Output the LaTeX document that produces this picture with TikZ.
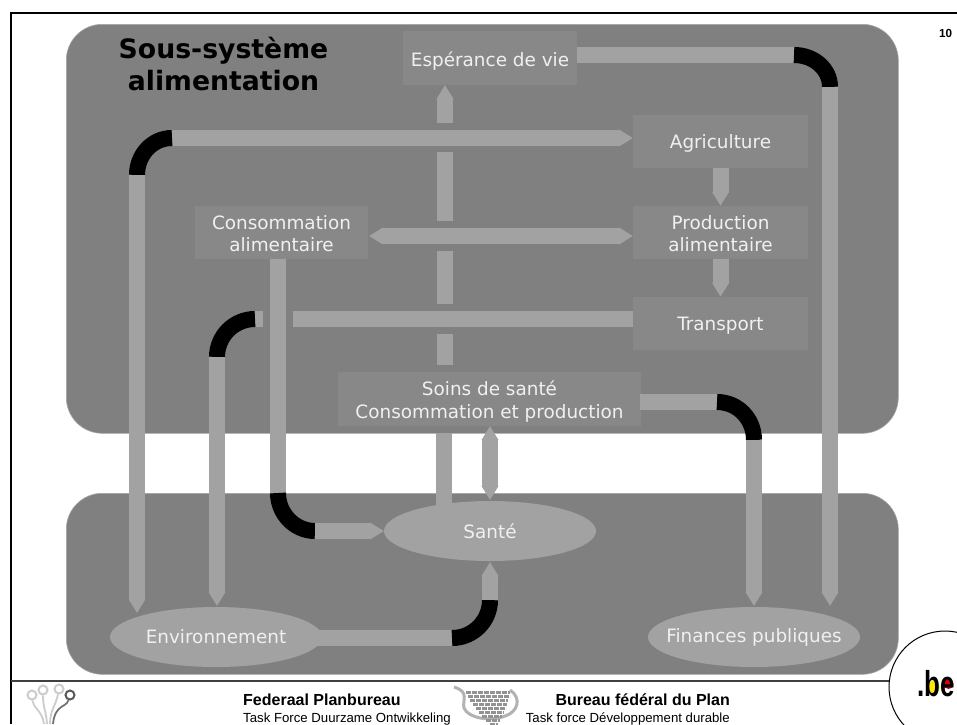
\documentclass[tikz,border=0pt]{standalone}
\usepackage{fontspec}
\setmainfont{DejaVu Sans}
\newfontfamily\arialfont{Liberation Sans}
\usetikzlibrary{arrows.meta,shapes.geometric}
\definecolor{pPanel}{HTML}{808080}
\definecolor{pBox}{HTML}{888888}
\definecolor{pPipe}{HTML}{A2A2A2}
\definecolor{pText}{HTML}{F0F0F0}
\tikzset{
    panel/.style={fill=pPanel, draw=pPanel!70!white, line width=0.6pt, rounded corners=36pt},
    bloc/.style={fill=pBox, text=pText, align=center, inner sep=0pt, font=\fontsize{18.4}{22.5}\selectfont},
    single/.style={text height=17pt, text depth=4pt},
    twolines/.style={text height=38pt, text depth=0pt},
    oval/.style={ellipse, fill=pPipe, text=pText, inner sep=0pt, minimum width=212pt, minimum height=60pt, font=\fontsize{18.4}{22.5}\selectfont},
    pipe/.style={line width=16pt, pPipe},
    elbow/.style={line width=16pt, black},
    pipetip/.style={pipe, -{Triangle[length=14pt,width=16pt]}},
    twotip/.style={pipe, {Triangle[length=14pt,width=16pt]}-{Triangle[length=14pt,width=16pt]}},
    logoline/.style={line width=1.8pt, gray!40},
    logoring/.style={circle, draw=gray!40, line width=2pt, fill=white, inner sep=0pt, minimum width=9pt}
}
\begin{document}
\begin{tikzpicture}[x=1pt,y=-1pt]
\useasboundingbox (0,0) rectangle (957,724);
% panels
\node[panel, minimum width=832pt, minimum height=409pt, inner sep=0pt, anchor=north west] (upper) at (66,24) {};
\node[panel, minimum width=832pt, minimum height=181pt, inner sep=0pt, anchor=north west] (lower) at (66,493) {};
% frame
\coordinate (frameTL) at (11,13);
\coordinate (frameTR) at (957,13);
\coordinate (frameBL) at (11,724);
\coordinate (frameML) at (11,681);
\coordinate (frameMR) at (889,681);
\draw[line width=2.6pt] (frameBL) -- (frameTL) -- (frameTR);
\draw[line width=2.2pt, black!75] (frameML) -- (frameMR);
% boxes
\node[bloc, single, text height=20pt, minimum width=174pt, minimum height=54pt] (esp) at (490,58) {Espérance de vie};
\node[bloc, single, minimum width=175pt, minimum height=53pt] (agri) at (720.5,141.5) {Agriculture};
\node[bloc, twolines, minimum width=175pt, minimum height=53pt] (prod) at (720.5,232.5) {Production\\alimentaire};
\node[bloc, single, minimum width=175pt, minimum height=53pt] (trans) at (720.5,323.5) {Transport};
\node[bloc, twolines, minimum width=173pt, minimum height=53pt] (cons) at (281.5,232.5) {Consommation\\alimentaire};
\node[bloc, twolines, minimum width=303pt, minimum height=54pt] (soins) at (489.5,399) {Soins de santé\\Consommation et production};
% joints of the pipes
\coordinate (espA) at (577,55);
\coordinate (espB) at (794,55);
\coordinate (espC) at (830,87);
\coordinate (espD) at (830,606);
\coordinate (agriA) at (633,138);
\coordinate (agriB) at (172,138);
\coordinate (agriC) at (137,175);
\coordinate (agriD) at (137,613);
\coordinate (transA) at (633,319);
\coordinate (transB) at (293,319);
\coordinate (transC) at (263,319);
\coordinate (transD) at (255,319);
\coordinate (transE) at (217,357);
\coordinate (transF) at (217,606);
\coordinate (consA) at (278,259);
\coordinate (consB) at (278,493);
\coordinate (consC) at (315,531);
\coordinate (consD) at (384,531);
\coordinate (soinsA) at (640,402);
\coordinate (soinsB) at (717,402);
\coordinate (soinsC) at (754,440);
\coordinate (soinsD) at (754,606);
\coordinate (soinsE) at (490,426);
\coordinate (soinsF) at (490,500);
\coordinate (envA) at (310,638);
\coordinate (envB) at (452,638);
\coordinate (envC) at (490,600);
\coordinate (envD) at (490,562);
\coordinate (lifeA) at (445,123);
\coordinate (lifeZ) at (445,85);
\coordinate (lifeB) at (445,152);
\coordinate (lifeC) at (445,221);
\coordinate (lifeD) at (445,251);
\coordinate (lifeE) at (445,304);
\coordinate (lifeF) at (445,334);
\coordinate (lifeG) at (445,365);
\coordinate (lifeH) at (444,433);
\coordinate (lifeI) at (444,510);
\coordinate (consLeft) at (369,236);
\coordinate (prodLeft) at (633,236);
% pipes
\draw[pipe] (lifeB) -- (lifeC);
\draw[pipe] (lifeD) -- (lifeE);
\draw[pipe] (lifeF) -- (lifeG);
\draw[pipe] (lifeH) -- (lifeI);
\draw[pipetip] (lifeA) -- (lifeZ);
\draw[pipe] (espA) -- (espB);
\draw[elbow] (espB) .. controls (814,55) and (830,69) .. (espC);
\draw[pipetip] (espC) -- (espD);
\draw[pipetip] (agriB) -- (agriA);
\draw[elbow] (agriB) .. controls (152,138) and (137,155) .. (agriC);
\draw[pipetip] (agriC) -- (agriD);
\draw[twotip] (consLeft) -- (prodLeft);
\draw[pipetip] (agri.south) -- (prod.north);
\draw[pipetip] (prod.south) -- (trans.north);
\draw[pipe] (transA) -- (transB);
\draw[pipe] (transC) -- (transD);
\draw[elbow] (transD) .. controls (234,319) and (217,336) .. (transE);
\draw[pipetip] (transE) -- (transF);
\draw[pipe] (consA) -- (consB);
\draw[elbow] (consB) .. controls (278,514) and (295,531) .. (consC);
\draw[pipetip] (consC) -- (consD);
\draw[twotip] (soinsE) -- (soinsF);
\draw[pipe] (soinsA) -- (soinsB);
\draw[elbow] (soinsB) .. controls (738,402) and (754,419) .. (soinsC);
\draw[pipetip] (soinsC) -- (soinsD);
\draw[pipe] (envA) -- (envB);
\draw[elbow] (envB) .. controls (473,638) and (490,621) .. (envC);
\draw[pipetip] (envC) -- (envD);
% ovals
\node[oval] (sante) at (490,531) {\makebox[0pt]{Santé}};
\node[oval] (env) at (216,637) {\makebox[0pt]{Environnement}};
\node[oval] (fin) at (754,637) {\makebox[0pt]{Finances publiques}};
% title
\node[align=center, font=\fontsize{26.7}{32}\selectfont\bfseries, inner sep=0pt, anchor=base] (titre) at (223.5,90) {Sous-système\\alimentation};
\node[font=\arialfont\fontsize{11.7}{13}\selectfont\bfseries, inner sep=0pt] (page) at (945.5,33) {10};
% footer
\node[font=\arialfont\fontsize{16}{18}\selectfont\bfseries, inner sep=0pt, anchor=base west] (fedNl) at (243,705) {Federaal Planbureau};
\node[font=\arialfont\fontsize{13.2}{15}\selectfont, inner sep=0pt, anchor=base west] (tfNl) at (243,722) {Task Force Duurzame Ontwikkeling};
\node[font=\arialfont\fontsize{16}{18}\selectfont\bfseries, inner sep=0pt, anchor=base east] (fedFr) at (730,705) {Bureau fédéral du Plan};
\node[font=\arialfont\fontsize{13.2}{15}\selectfont, inner sep=0pt, anchor=base east] (tfFr) at (730,722) {Task force Développement durable};
% left logo
\node[logoring] (ringA) at (32,695) {};
\node[logoring] (ringB) at (43,690) {};
\node[logoring] (ringC) at (59,689) {};
\node[logoring, draw=black!65] (ringD) at (70,695) {};
\coordinate (rootA) at (44,724);
\coordinate (rootB) at (47,724);
\coordinate (rootC) at (50,724);
\coordinate (rootD) at (53,724);
\draw[logoline] (ringA) .. controls (33,708) and (42,710) .. (rootA);
\draw[logoline] (ringB) .. controls (43,708) and (46,710) .. (rootB);
\draw[logoline] (ringC) .. controls (56,705) and (50,710) .. (rootC);
\draw[logoline, black!55] (ringD) .. controls (66,708) and (55,704) .. (rootD);
% middle logo
\draw[line width=3pt, gray!60] (454,687) .. controls (470,692) and (462,700) .. (464,708) .. controls (468,718) and (490,722) .. (505,716) .. controls (518,712) and (522,698) .. (510,690);
\foreach \y/\l/\r in {692/466/510,696/468/510,700/470/508,704/473/507,708/476/506,712/479/504,716/482/502,720/486/500,724/490/498}
    \draw[line width=3pt, gray!85, dash pattern=on 5pt off 1pt] (\l,\y) -- (\r,\y);
% be logo
\coordinate (beCentre) at (945,687);
\draw[line width=1pt, fill=white] (beCentre) circle[radius=56];
\fill[yellow!90!orange] (933,687.5) circle[radius=6.5];
\fill[red!85!black] (948.5,684) circle[radius=5];
\node[font=\arialfont\fontsize{36}{36}\selectfont\bfseries, inner sep=0pt, anchor=base] (be) at (936.5,696) {\scalebox{.72}[1]{.be}};
\end{tikzpicture}
\end{document}
